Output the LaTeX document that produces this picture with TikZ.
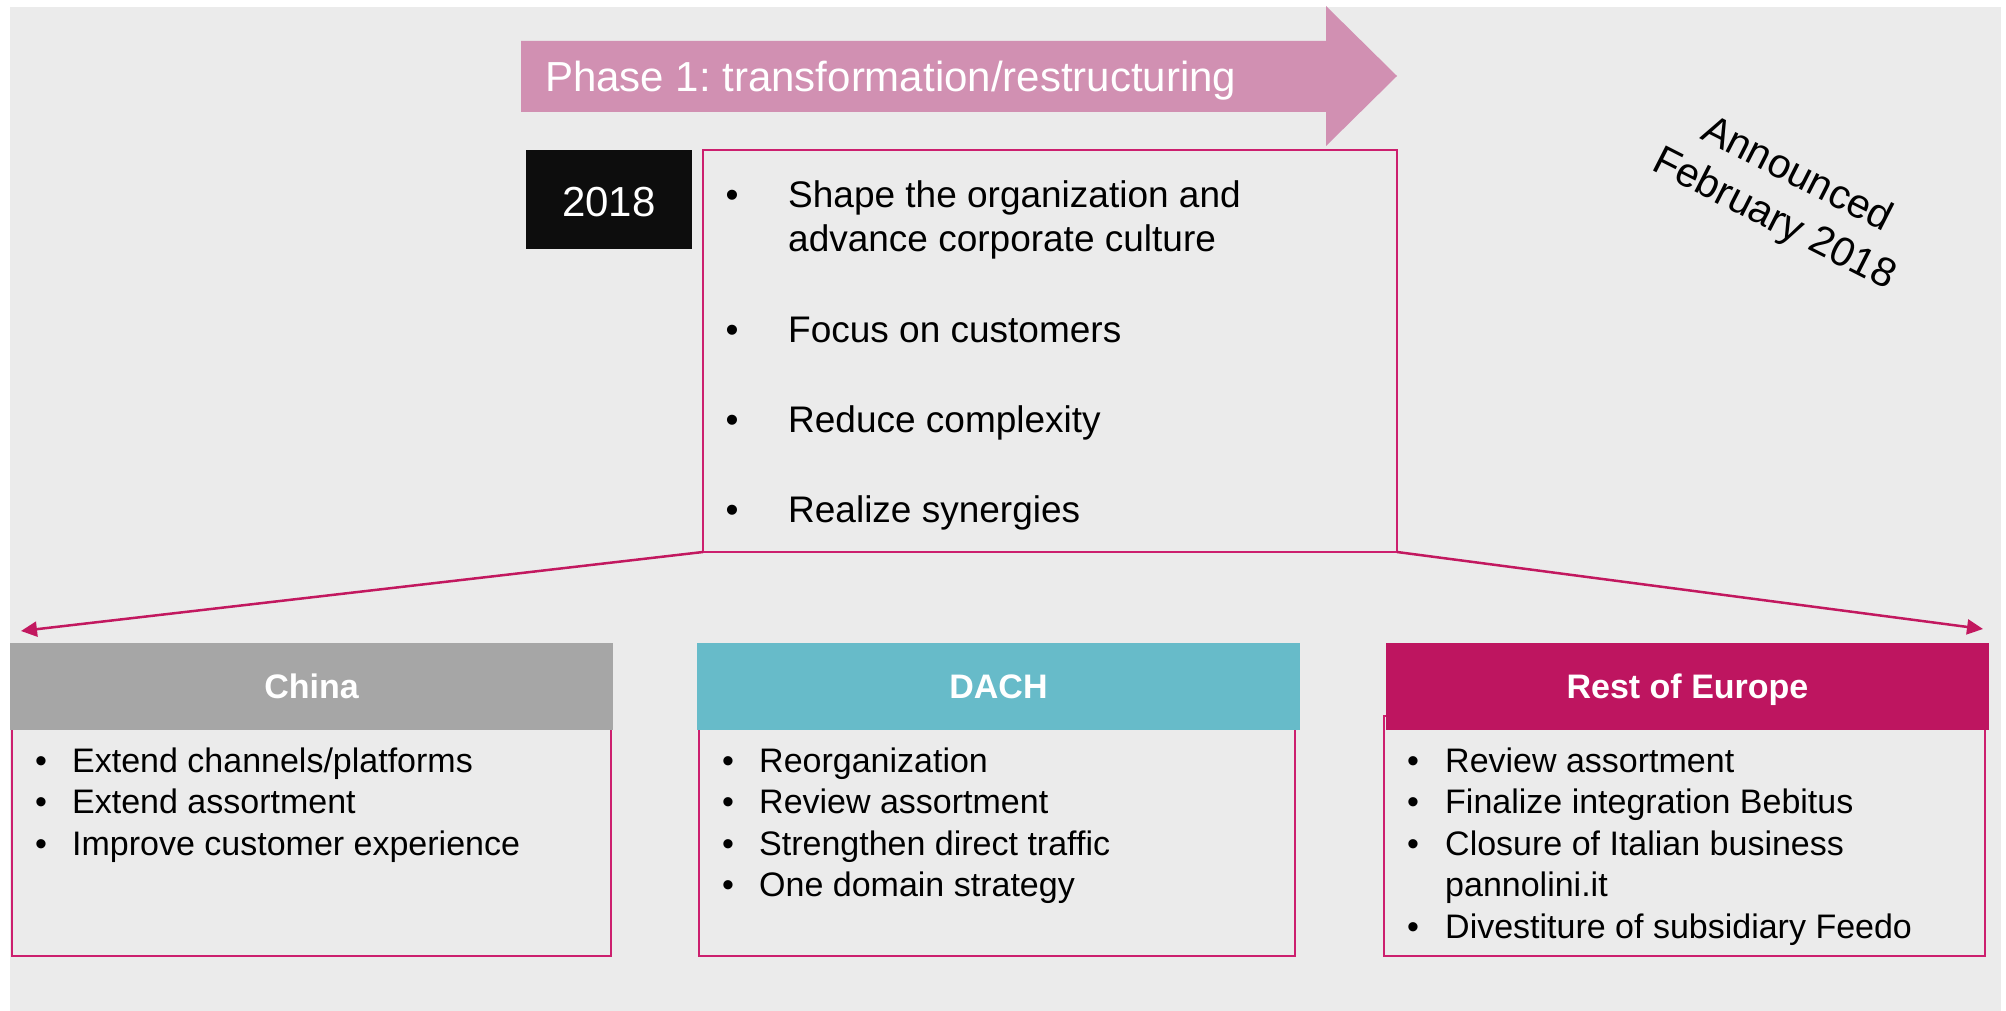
\documentclass[tikz,border=0pt]{standalone}
\usepackage{fontspec}
\setmainfont{Liberation Sans}
\usetikzlibrary{arrows.meta}
\frenchspacing
\definecolor{bggray}{HTML}{EBEBEB}
\definecolor{phasepink}{HTML}{D190B2}
\definecolor{boxpink}{HTML}{CC1F6E}
\definecolor{linepink}{HTML}{C2185F}
\definecolor{roecol}{HTML}{BE1560}
\definecolor{dachcol}{HTML}{67BBC9}
\definecolor{chinacol}{HTML}{A6A6A6}
\definecolor{nearblack}{HTML}{0D0D0D}
\newcommand\fmainsz{\fontsize{37}{44.4}\selectfont}
\newcommand\fsubsz{\fontsize{34}{41.5}\selectfont}
\newcommand\fbigsz{\fontsize{42}{50}\selectfont}
\newcommand\fannsz{\fontsize{41}{50}\selectfont}
\tikzset{
  outline/.style={draw=boxpink, line width=2pt},
  header/.style={anchor=base, inner sep=0pt, text=white, font=\fsubsz\bfseries},
  mtext/.style={anchor=base west, inner sep=0pt, font=\fmainsz},
  mbul/.style={anchor=base, inner sep=0pt, font=\fmainsz},
  stext/.style={anchor=base west, inner sep=0pt, font=\fsubsz},
  sbul/.style={anchor=base, inner sep=0pt, font=\fsubsz},
  conn/.style={draw=linepink, line width=2.5pt, -{Triangle[length=16pt,width=15pt]}}
}
\begin{document}
\begin{tikzpicture}[x=1pt,y=-1pt]
\useasboundingbox (0,0) rectangle (2006,1011);
\fill[bggray] (10,7) rectangle (2001,1011);

% phase arrow
\fill[phasepink] (521,41) -- (1326,41) -- (1326,6) -- (1397,76) -- (1326,146) -- (1326,112) -- (521,112) -- cycle;
\node[anchor=base west, inner sep=0pt, text=white, font=\fbigsz] (phase) at (545,92) {Phase 1: transformation/restructuring};

% year box
\fill[nearblack] (526,150) rectangle (692,249);
\node[anchor=base, inner sep=0pt, text=white, font=\fbigsz] (year) at (609,217) {2018};

% main box
\draw[outline] (703,150) rectangle (1397,552);
\coordinate (msw) at (703,552);
\coordinate (mse) at (1397,552);
\node[mbul] (mb1) at (732,208) {•};
\node[mtext] (m1a) at (788,208) {Shape the organization and};
\node[mtext] (m1b) at (788,252) {advance corporate culture};
\node[mbul] (mb2) at (732,342) {•};
\node[mtext] (m2) at (788,342) {Focus on customers};
\node[mbul] (mb3) at (732,432) {•};
\node[mtext] (m3) at (788,432) {Reduce complexity};
\node[mbul] (mb4) at (732,522) {•};
\node[mtext] (m4) at (788,522) {Realize synergies};

% announced
\node[rotate=-27, align=center, inner sep=0pt, font=\fannsz] (ann) at (1785,198) {Announced\\February 2018};

% China
\draw[outline] (12,716) rectangle (611,956);
\fill[chinacol] (10,643) rectangle (613,730);
\node[header] (china) at (311.5,698) {China};
\coordinate (chinatip) at (21,631);
\node[sbul] (cb1) at (41,772) {•};
\node[stext] (c1) at (72,772) {Extend channels/platforms};
\node[sbul] (cb2) at (41,813.5) {•};
\node[stext] (c2) at (72,813.5) {Extend assortment};
\node[sbul] (cb3) at (41,855) {•};
\node[stext] (c3) at (72,855) {Improve customer experience};

% DACH
\draw[outline] (699,716) rectangle (1295,956);
\fill[dachcol] (697,643) rectangle (1300,730);
\node[header] (dach) at (998.5,698) {DACH};
\node[sbul] (db1) at (728,772) {•};
\node[stext] (d1) at (759,772) {Reorganization};
\node[sbul] (db2) at (728,813.5) {•};
\node[stext] (d2) at (759,813.5) {Review assortment};
\node[sbul] (db3) at (728,855) {•};
\node[stext] (d3) at (759,855) {Strengthen direct traffic};
\node[sbul] (db4) at (728,896.5) {•};
\node[stext] (d4) at (759,896.5) {One domain strategy};

% Rest of Europe
\draw[outline] (1384,716) rectangle (1985,956);
\fill[roecol] (1386,643) rectangle (1989,730);
\node[header] (roe) at (1687.5,698) {Rest of Europe};
\coordinate (roetip) at (1983,629);
\node[sbul] (rb1) at (1413,772) {•};
\node[stext] (r1) at (1445,772) {Review assortment};
\node[sbul] (rb2) at (1413,813.5) {•};
\node[stext] (r2) at (1445,813.5) {Finalize integration Bebitus};
\node[sbul] (rb3) at (1413,855) {•};
\node[stext] (r3a) at (1445,855) {Closure of Italian business};
\node[stext] (r3b) at (1445,896.5) {pannolini.it};
\node[sbul] (rb4) at (1413,938) {•};
\node[stext] (r4) at (1445,938) {Divestiture of subsidiary Feedo};

% connectors
\draw[conn] (msw) -- (chinatip);
\draw[conn] (mse) -- (roetip);
\end{tikzpicture}
\end{document}
